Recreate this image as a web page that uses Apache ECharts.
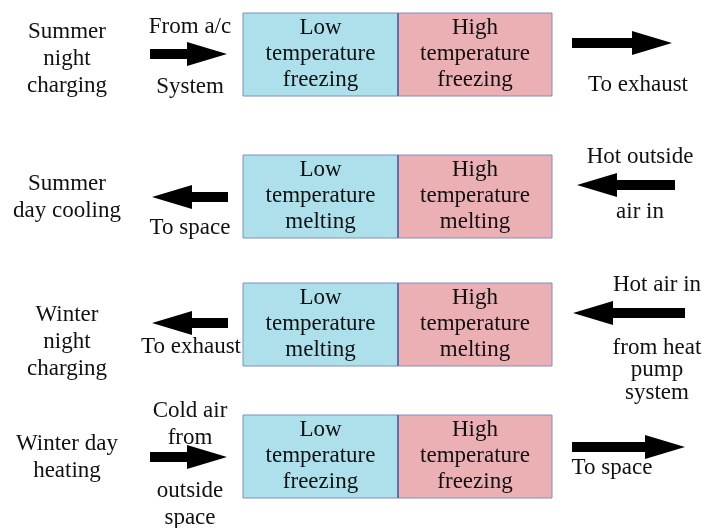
<!DOCTYPE html>
<html>
<head>
<meta charset="utf-8">
<script src="https://cdn.jsdelivr.net/npm/echarts@6/dist/echarts.min.js"></script>
<style>html,body{margin:0;padding:0;background:#fff}#c{width:711px;height:528px}</style>
</head>
<body>
<div id="c"></div>
<script>
// ---- data ----
const modes = ['Summer\nnight\ncharging', 'Summer\nday cooling', 'Winter\nnight\ncharging', 'Winter day\nheating'];
const lowPhase = ['freezing', 'melting', 'melting', 'freezing'];
const highPhase = ['freezing', 'melting', 'melting', 'freezing'];
const flowDir = ['right', 'left', 'left', 'right'];
const leftNotes = [['From a/c', 'System'], ['To space'], ['To exhaust'], ['Cold air\nfrom', 'outside\nspace']];
const rightNotes = [['To exhaust'], ['Hot outside', 'air in'], ['Hot air in', 'from heat\npump\nsystem'], ['To space']];

// ---- layout (positions in diagram units) ----
const L = {
  rowTop: [13, 155, 283, 415],
  boxH: 83, boxL: 243, boxM: 398, boxR: 552,
  modeXY: [[67, 59], [67, 197], [67, 342], [67, 457]],
  leftNoteXY: [[[190, 27], [190, 87]], [[190, 228]], [[191, 347]], [[190, 424], [190, 504]]],
  rightNoteXY: [[[638, 85]], [[640, 157], [640, 212]], [[657, 285], [657, 370]], [[612, 468]]],
  leftArrow: [[150, 227, 54], [152, 228, 197], [152, 228, 323], [150, 227, 457]],
  rightArrow: [[572, 672, 43], [577, 675, 185], [573, 685, 313], [572, 685, 447]]
};
const FONT = '23px "Liberation Serif", "Times New Roman", serif';
const INK = '#111';

function arrowPts(api, x1, x2, y, dir) {
  const sh = 5, hh = 12, hl = 40;
  let pts;
  if (dir === 'right') {
    pts = [[x1, y - sh], [x2 - hl, y - sh], [x2 - hl, y - hh], [x2, y], [x2 - hl, y + hh], [x2 - hl, y + sh], [x1, y + sh]];
  } else {
    pts = [[x2, y - sh], [x1 + hl, y - sh], [x1 + hl, y - hh], [x1, y], [x1 + hl, y + hh], [x1 + hl, y + sh], [x2, y + sh]];
  }
  return pts.map(p => api.coord(p));
}
function txt(api, s, x, y, lh) {
  const c = api.coord([x, y]);
  return { type: 'text', x: c[0], y: c[1], style: { text: s, font: FONT, fill: INK, align: 'center', verticalAlign: 'middle', lineHeight: lh || 26 } };
}

function renderItem(params, api) {
  const i = api.value(0);
  const top = L.rowTop[i];
  const p0 = api.coord([L.boxL, top]);
  const pm = api.coord([L.boxM, top + L.boxH]);
  const p1 = api.coord([L.boxR, top + L.boxH]);
  const ch = [];
  ch.push({ type: 'rect', shape: { x: p0[0], y: p0[1], width: pm[0] - p0[0], height: pm[1] - p0[1] },
    style: { fill: '#ade0ea', stroke: '#7f8fc0', lineWidth: 1 } });
  ch.push({ type: 'rect', shape: { x: pm[0], y: p0[1], width: p1[0] - pm[0], height: p1[1] - p0[1] },
    style: { fill: '#eab0b3', stroke: '#7f8fc0', lineWidth: 1 } });
  ch.push({ type: 'line', shape: { x1: pm[0], y1: p0[1], x2: pm[0], y2: p1[1] }, style: { stroke: '#4a62a8', lineWidth: 1.5 } });
  ch.push(txt(api, 'Low\ntemperature\n' + lowPhase[i], (L.boxL + L.boxM) / 2, top + 41));
  ch.push(txt(api, 'High\ntemperature\n' + highPhase[i], (L.boxM + L.boxR) / 2, top + 41));
  ch.push(txt(api, modes[i], L.modeXY[i][0], L.modeXY[i][1], 27));
  leftNotes[i].forEach((s, k) => ch.push(txt(api, s, L.leftNoteXY[i][k][0], L.leftNoteXY[i][k][1], 27)));
  rightNotes[i].forEach((s, k) => ch.push(txt(api, s, L.rightNoteXY[i][k][0], L.rightNoteXY[i][k][1], 22.5)));
  const la = L.leftArrow[i], ra = L.rightArrow[i];
  ch.push({ type: 'polygon', shape: { points: arrowPts(api, la[0], la[1], la[2], flowDir[i]) }, style: { fill: '#000' } });
  ch.push({ type: 'polygon', shape: { points: arrowPts(api, ra[0], ra[1], ra[2], flowDir[i]) }, style: { fill: '#000' } });
  return { type: 'group', children: ch };
}

const chart = echarts.init(document.getElementById('c'), null, { renderer: 'canvas' });
chart.setOption({
  animation: false,
  grid: { left: 0, right: 0, top: 0, bottom: 0 },
  xAxis: { type: 'value', min: 0, max: 711, show: false },
  yAxis: { type: 'value', min: 0, max: 528, inverse: true, show: false },
  series: [{ type: 'custom', renderItem: renderItem, data: modes.map((m, i) => [i]), clip: false }]
});
</script>
</body>
</html>
